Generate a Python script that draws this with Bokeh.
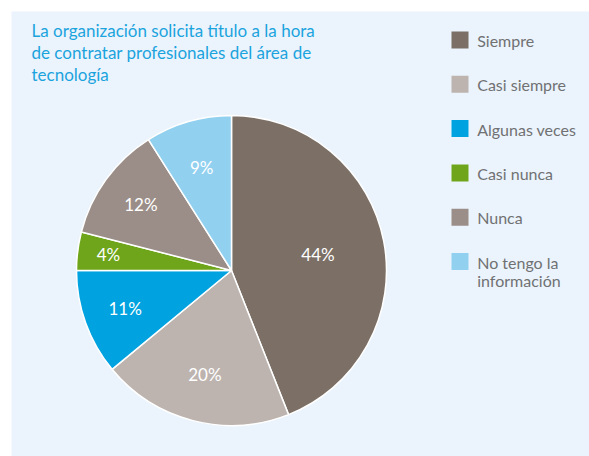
import numpy as np
from bokeh.plotting import figure
from bokeh.models import Range1d, ColumnDataSource
from bokeh.embed import file_html
from bokeh.resources import INLINE
from bokeh.core.properties import value

# ---- data ----
categories = ["Siempre", "Casi siempre", "Algunas veces", "Casi nunca", "Nunca",
              "No tengo la\ninformación"]
percentages = [44, 20, 11, 4, 12, 9]
colors = ["#7b6f66", "#bdb4af", "#00a3e0", "#6ea51a", "#9b8e88", "#92d0f0"]
title_lines = ["La organización solicita título a la hora",
               "de contratar profesionales del área de",
               "tecnología"]

# ---- layout / style ----
W, H = 589, 456
FONT = "Lato"
cx, cy, R = 231, 186, 155
label_radius = [88, 107, 113, 124, 112, 107]

p = figure(width=W, height=H, output_backend="svg", toolbar_location=None,
           x_range=Range1d(0, W), y_range=Range1d(0, H),
           x_axis_type=None, y_axis_type=None, min_border=0,
           background_fill_color="white", border_fill_color="white",
           outline_line_color=None)
p.grid.visible = False

# panel background
p.quad(left=[11], right=[W], bottom=[0], top=[H - 11],
       fill_color="#ebf4fc", line_color=None)

# pie wedges
frac = np.array(percentages, dtype=float) / sum(percentages)
cum = np.cumsum(frac)
start = np.pi / 2 - 2 * np.pi * (cum - frac)
end = np.pi / 2 - 2 * np.pi * cum
mid = (start + end) / 2
src = ColumnDataSource(dict(start=start, end=end, color=colors,
                            lx=cx + np.array(label_radius) * np.cos(mid),
                            ly=cy + np.array(label_radius) * np.sin(mid),
                            lab=[f"{v}%" for v in percentages]))
p.wedge(x=cx, y=cy, radius=R, start_angle="start", end_angle="end",
        direction="clock", fill_color="color", line_color="white",
        line_width=1.5, source=src)
p.text(x="lx", y="ly", text="lab", source=src, text_color="white",
       text_font=value(FONT), text_font_size="17px",
       text_align="center", text_baseline="middle")

# title
p.text(x=[31] * len(title_lines),
       y=[426 - 22 * i for i in range(len(title_lines))],
       text=title_lines, text_color="#1ba3de", text_font=value(FONT),
       text_font_size="17px", text_align="left", text_baseline="middle")

# legend
lx0, ly0, step = 459.5, 416.5, 44.3
ycs = [ly0 - step * i for i in range(len(categories))]
p.rect(x=[lx0] * len(categories), y=ycs, width=17, height=17,
       fill_color=colors, line_color=None)
tx, ty, tt = [], [], []
for yc, cat in zip(ycs, categories):
    for j, line in enumerate(cat.split("\n")):
        tx.append(lx0 + 17.2)
        ty.append(yc - 0.5 - 18.5 * j)
        tt.append(line)
p.text(x=tx, y=ty, text=tt, text_color="#707173", text_font=value(FONT),
       text_font_size="16px", text_align="left", text_baseline="middle")

open("out.html", "w").write(file_html(p, INLINE))
